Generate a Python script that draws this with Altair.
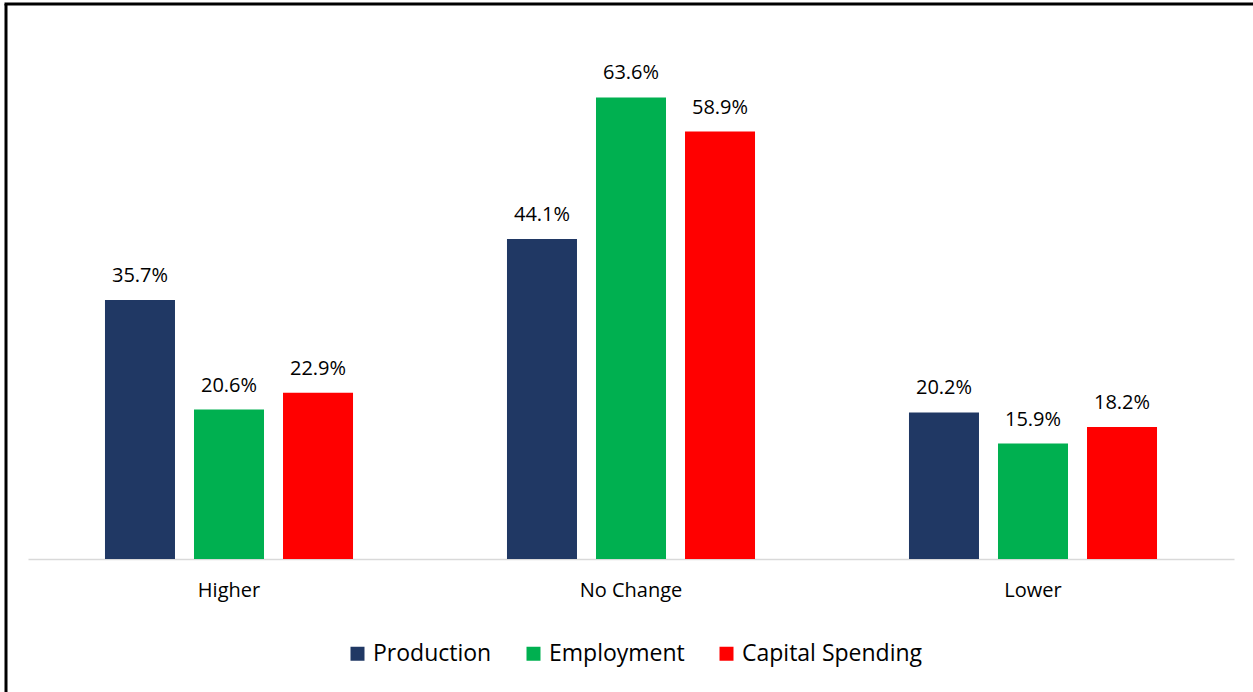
import altair as alt
import pandas as pd

categories = ["Higher", "No Change", "Lower"]
series = ["Production", "Employment", "Capital Spending"]
production = [35.7, 44.1, 20.2]
employment = [20.6, 63.6, 15.9]
capital_spending = [22.9, 58.9, 18.2]
colors = ["#203864", "#00B050", "#FF0000"]

rows = []
for i, c in enumerate(categories):
    for s, vals in zip(series, [production, employment, capital_spending]):
        rows.append({"category": c, "series": s, "value": vals[i]})
df = pd.DataFrame(rows)

FONT = "Open Sans"

x_enc = alt.X("category:N", sort=categories, title=None,
              scale=alt.Scale(paddingInner=0.383, paddingOuter=0.1915),
              axis=alt.Axis(labelAngle=0, ticks=False, tickSize=0, domain=True,
                            domainColor="#D9D9D9", domainWidth=1.5,
                            labelFont=FONT, labelFontSize=20, labelColor="#000000",
                            labelPadding=21, grid=False))
xoff = alt.XOffset("series:N", sort=series,
                   scale=alt.Scale(paddingInner=0.2135, paddingOuter=0))
y_enc = alt.Y("value:Q", scale=alt.Scale(domain=[0, 70], nice=False), axis=None)
color_enc = alt.Color("series:N", sort=series,
                      scale=alt.Scale(domain=series, range=colors),
                      legend=alt.Legend(title=None, orient="none", direction="horizontal",
                                        legendX=318, legendY=591,
                                        symbolType="square", symbolSize=196,
                                        symbolStrokeWidth=0, symbolOpacity=1,
                                        labelFont=FONT, labelFontSize=23,
                                        labelColor="#000000", labelOffset=4,
                                        labelLimit=0,
                                        columnPadding=30, padding=0))

base = alt.Chart(df)
bars = base.mark_bar().encode(x=x_enc, xOffset=xoff, y=y_enc, color=color_enc)
labels = base.mark_text(baseline="alphabetic", dy=-18, font=FONT, fontSize=20,
                        color="#000000").encode(
    x=alt.X("category:N", sort=categories), xOffset=xoff, y="value:Q",
    text="label:N").transform_calculate(label="format(datum.value, '.1f') + '%'")

frame_df = pd.DataFrame({"a": [0]})
left_border = alt.Chart(frame_df).mark_rule(color="#000000", strokeWidth=3).encode(
    x=alt.value(-22), y=alt.value(-47), y2=alt.value(700))
top_border = alt.Chart(frame_df).mark_rule(color="#000000", strokeWidth=3).encode(
    x=alt.value(-23.5), x2=alt.value(1300), y=alt.value(-47))

chart = alt.layer(bars, labels, left_border, top_border).properties(
    width=1206, height=508,
    autosize=alt.AutoSizeParams(type="none"),
    padding={"left": 28, "top": 51, "right": 19, "bottom": 133},
    background="#FFFFFF",
).configure_view(stroke=None)

chart.save("out.html", embed_options={"renderer": "svg", "actions": False})
